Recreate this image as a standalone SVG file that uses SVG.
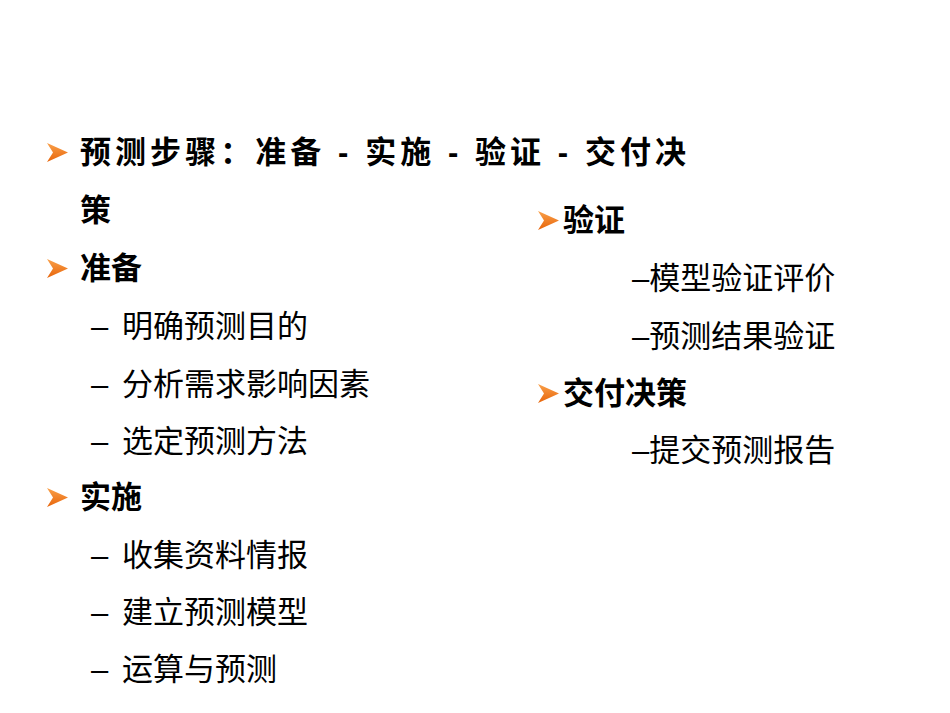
<svg xmlns="http://www.w3.org/2000/svg" width="950" height="713" viewBox="0 0 950 713">
<style>
text{font-family:"Liberation Sans","Noto Sans CJK SC",sans-serif;font-size:31px;fill:#000}
.b{font-weight:bold}
</style>
<defs>
<linearGradient id="g" x1="0" y1="0" x2="0" y2="1"><stop offset="0" stop-color="#f9a04a"/><stop offset="1" stop-color="#e8650a"/></linearGradient>
<polygon id="ar" points="0,0 21,9.5 0,19 6,9.5" fill="url(#g)"/>
</defs>
<rect width="950" height="713" fill="#fff"/>
<g id="left">
<use href="#ar" x="47" y="143"/>
<text class="b" x="80" y="163" textLength="606" lengthAdjust="spacing">预测步骤：准备 - 实施 - 验证 - 交付决</text>
<text class="b" x="80" y="221">策</text>
<use href="#ar" x="47" y="259"/>
<text class="b" x="80" y="279">准备</text>
<text x="91" y="337">–</text><text x="122" y="337">明确预测目的</text>
<text x="91" y="395">–</text><text x="122" y="395">分析需求影响因素</text>
<text x="91" y="452">–</text><text x="122" y="452">选定预测方法</text>
<use href="#ar" x="47" y="488"/>
<text class="b" x="80" y="508">实施</text>
<text x="91" y="566">–</text><text x="122" y="566">收集资料情报</text>
<text x="91" y="623">–</text><text x="122" y="623">建立预测模型</text>
<text x="91" y="680">–</text><text x="122" y="680">运算与预测</text>
</g>
<g id="right">
<use href="#ar" x="538" y="211"/>
<text class="b" x="563" y="231">验证</text>
<text x="632" y="289">–模型验证评价</text>
<text x="632" y="347">–预测结果验证</text>
<use href="#ar" x="538" y="384"/>
<text class="b" x="563" y="404">交付决策</text>
<text x="632" y="461">–提交预测报告</text>
</g>
</svg>
